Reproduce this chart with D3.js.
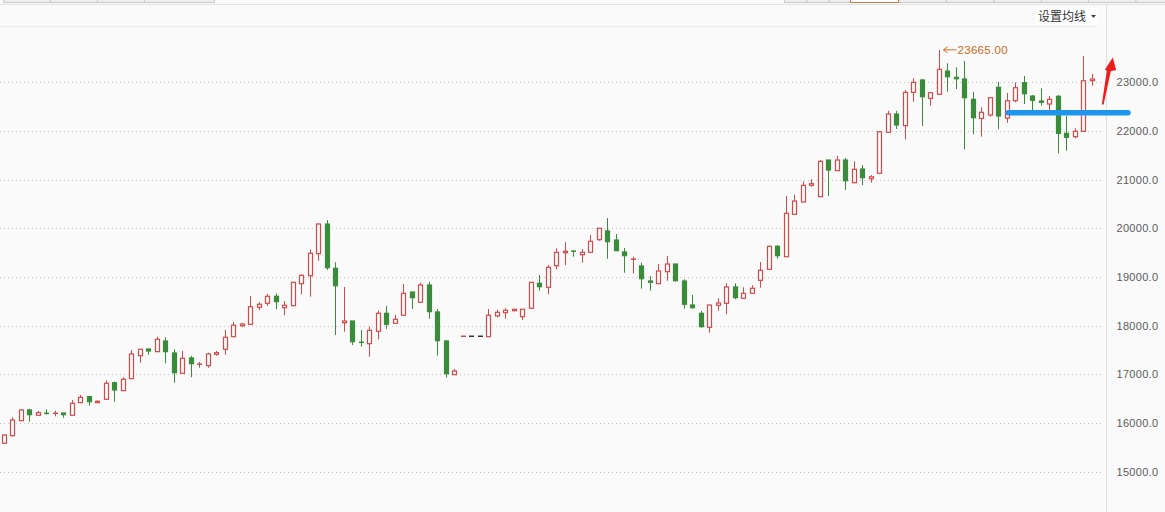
<!DOCTYPE html>
<html><head><meta charset="utf-8">
<script src="https://cdn.jsdelivr.net/npm/d3@7"></script>
<style>
html,body{margin:0;padding:0;background:#fafafa;}
svg{display:block;}
</style></head>
<body>
<svg id="chart" width="1165" height="512"></svg>
<script>
// ---------- data ----------
const open = [15586,15742,16050,16270,16161,16208,16194,16208,16161,16420,16543,16420,16489,16830,16666,16912,17384,17522,17467,17686,
17440,17023,17337,17200,17179,17413,17516,17775,18000,18029,18378,18460,18604,18370,18411,18863,19027,19479,20088,19179,
18062,18097,17666,17631,17885,18255,18050,18214,18692,18481,18836,18282,17686,16994,17783,17783,17783,17775,18200,18267,
18308,18185,18358,18871,18789,19232,19499,19540,19458,19507,19766,19945,19760,19513,19355,19226,18918,18863,19109,19267,
18918,18425,18255,17967,18419,18460,18795,18563,18665,18932,19158,19630,19417,20287,20540,20883,20649,21402,21183,21402,
20936,21217,21018,21129,21971,22347,22107,22792,23045,22669,22751,23229,23100,23065,22648,22258,22326,22895,22264,22620,
22989,22716,22613,22552,22710,21950,21881,21991,23030];
const high = [15770,16120,16290,16290,16249,16284,16255,16208,16475,16578,16557,16469,16879,16851,16941,17501,17516,17522,17775,17762,
17516,17481,17378,17255,17446,17481,17912,18076,18056,18610,18481,18651,18665,18507,18891,19056,19569,20103,20170,19302,
18795,18097,17912,17980,18308,18405,18226,18856,18692,18883,18897,18343,17706,17111,17783,17783,17783,18343,18323,18358,
18337,18337,18891,19041,19247,19589,19713,19555,19575,19862,20000,20211,19883,19596,19417,19294,19021,19267,19431,19267,
18953,18631,18302,18425,18563,18871,18871,18789,18830,19308,19643,19657,20663,20684,20965,21006,21402,21402,21490,21443,
21376,21300,21094,21983,22414,22414,22839,23080,23065,22784,23665,23387,23305,23435,22798,22484,22681,23004,22778,22997,
23127,22737,22874,22716,22737,22306,22053,23537,23168];
const low = [15586,15722,16050,16030,16161,16173,16140,16112,16161,16420,16358,16420,16489,16440,16666,16912,17241,17405,17467,17228,
16830,17023,16941,17138,17138,17384,17405,17775,17967,18029,18317,18405,18337,18214,18411,18645,18596,19335,19144,17809,
17877,17604,17569,17364,17721,17933,18050,18214,18343,18481,18144,17384,16933,16994,17783,17783,17783,17775,18173,18144,
18296,18117,18358,18719,18645,19158,19247,19417,19294,19507,19745,19376,19540,19088,19076,18760,18719,18863,18924,18904,
18349,18349,17960,17857,18308,18234,18542,18563,18665,18781,19158,19376,19417,20287,20540,20854,20649,20663,21183,20786,
20936,20889,20936,21129,21971,22039,21827,22599,22100,22517,22751,22804,22860,21622,21930,21881,22291,22039,22168,22587,
22552,22408,22517,22429,21540,21593,21848,21991,22928];
const close = [15756,16064,16270,16173,16214,16194,16208,16173,16407,16530,16440,16448,16818,16680,16900,17419,17516,17481,17721,17467,
17035,17331,17220,17220,17419,17446,17762,18009,18035,18390,18440,18604,18493,18419,18891,19035,19487,20088,19191,18822,
18097,17672,17652,17906,18255,18029,18132,18665,18575,18836,18288,17693,17015,17070,17783,17783,17783,18214,18275,18317,
18337,18337,18891,18801,19199,19507,19528,19520,19507,19733,20000,19725,19540,19438,19376,18965,18891,19123,19267,18924,
18440,18370,17980,18425,18466,18795,18575,18665,18768,19138,19630,19438,20308,20560,20883,20916,21376,21197,21402,20977,
21211,21039,21059,21983,22347,22121,22792,22997,22702,22784,23264,23112,23071,22681,22271,22381,22681,22306,22620,22887,
22763,22628,22587,22648,21950,21868,21991,23030,23065];
const categories = d3.range(open.length);           // one category per trading day
const yTicks = [15000,16000,17000,18000,19000,20000,21000,22000,23000];
const menuLabel = "设置均线";

// ---------- colours ----------
const RED = "#d04a4a", GREEN = "#3a8c3a", FLAT = "#333333";

const svg = d3.select("#chart");
const W = 1165, H = 512, axisX = 1106.5;

// ---------- top chrome ----------
const chrome = svg.append("g");
const leftTabs = [3, 50, 97, 144, 214];
const rightTabs = [784, 806.5, 828.5, 850, 898.5, 946, 993.5, 1041, 1088, 1135.5, 1170];
function tabs(edges, selIdx) {
  for (let k = 0; k < edges.length - 1; k++) {
    chrome.append("rect").attr("x", edges[k] + 0.5).attr("y", -4).attr("width", edges[k+1]-edges[k]).attr("height", 6.5)
      .attr("fill", k === selIdx ? "#fdfdfd" : "#eeeeee").attr("stroke", "#c9c9c9").attr("stroke-width", 1);
  }
}
tabs(leftTabs, -1);
tabs(rightTabs, 3);
chrome.append("rect").attr("x", 850.5).attr("y", -4).attr("width", 48).attr("height", 6.5)
  .attr("fill", "none").attr("stroke", "#c8784a").attr("stroke-width", 1);
chrome.append("line").attr("x1", 0).attr("x2", W).attr("y1", 4.5).attr("y2", 4.5).attr("stroke", "#e2e2e2");
chrome.append("line").attr("x1", 0).attr("x2", 1097).attr("y1", 26.5).attr("y2", 26.5).attr("stroke", "#ececec").attr("stroke-width", 1);
chrome.append("rect").attr("x", 1036).attr("y", 8).attr("width", 62).attr("height", 16).attr("fill", "#ffffff");
chrome.append("text").attr("x", 1038).attr("y", 21).text(menuLabel)
  .attr("font-family", "Noto Sans CJK SC").attr("font-size", 12).attr("fill", "#333");
chrome.append("path").attr("d", "M1091,15 L1096,15 L1093.5,18 Z").attr("fill", "#444");
chrome.append("line").attr("x1", axisX).attr("x2", axisX).attr("y1", 5).attr("y2", H).attr("stroke", "#e0e0e0");

// ---------- scales ----------
const x = d3.scaleBand().domain(categories).range([0, 1096.5]).padding(0);
const y = d3.scaleLinear().domain([15000, 23000]).range([471.8, 82.2]);

// gridlines
svg.append("g").selectAll("line").data(yTicks).join("line")
  .attr("x1", 0).attr("x2", 1101)
  .attr("y1", d => Math.round(y(d)) + 0.5).attr("y2", d => Math.round(y(d)) + 0.5)
  .attr("stroke", "#c4c4c4").attr("stroke-dasharray", "1,3");

// axis
const axis = svg.append("g").attr("transform", `translate(${axisX},0)`)
  .call(d3.axisRight(y).tickValues(yTicks).tickFormat(d3.format(".1f")).tickSize(0).tickPadding(10));
axis.select(".domain").remove();
axis.selectAll("text").attr("font-family", "Liberation Sans").attr("font-size", 11).attr("fill", "#5a5a5a")
  .attr("letter-spacing", 0.3);

// ---------- candles ----------
const data = categories.map(i => ({i, o: open[i], h: high[i], l: low[i], c: close[i]}));
function colorOf(d) {
  if (d.c > d.o) return RED;
  if (d.c < d.o) return GREEN;
  const prev = d.i > 0 ? close[d.i - 1] : d.c;
  return d.c > prev ? RED : (d.c < prev ? GREEN : FLAT);
}
const cx = d => Math.round(x(d.i) + x.bandwidth() / 2 - 0.5) + 0.5;
const g = svg.append("g");
const cs = g.selectAll("g").data(data).join("g");
cs.append("line")
  .attr("x1", cx).attr("x2", cx)
  .attr("y1", d => y(d.h)).attr("y2", d => y(d.l))
  .attr("stroke", colorOf).attr("stroke-width", 1);
cs.each(function(d) {
  const sel = d3.select(this);
  const col = colorOf(d);
  const yt = y(Math.max(d.o, d.c)), yb = y(Math.min(d.o, d.c));
  const c = cx(d);
  if (yb - yt < 1.2) {
    sel.append("line").attr("x1", c - 2.5).attr("x2", c + 2.5)
      .attr("y1", (yt + yb) / 2).attr("y2", (yt + yb) / 2)
      .attr("stroke", col).attr("stroke-width", 1.5);
  } else {
    sel.append("rect").attr("x", c - 2).attr("width", 4)
      .attr("y", yt).attr("height", yb - yt)
      .attr("fill", d.c > d.o ? "#fcfcfc" : col)
      .attr("stroke", col).attr("stroke-width", 1.2);
  }
});

// ---------- max label ----------
const maxIdx = d3.maxIndex(high);
const mx = cx(data[maxIdx]) + 3, my = y(high[maxIdx]);
const ORANGE = "#cc6a20";
svg.append("path").attr("d", `M${mx+14},${my} H${mx+1} M${mx+5},${my-3} L${mx+1},${my} L${mx+5},${my+3}`)
  .attr("stroke", ORANGE).attr("fill", "none").attr("stroke-width", 1);
svg.append("text").attr("x", mx + 15).attr("y", my + 4).text(d3.format(".2f")(high[maxIdx]))
  .attr("font-family", "Liberation Sans").attr("font-size", 11.5).attr("fill", ORANGE).attr("letter-spacing", 0.3);

// ---------- hand-drawn annotations ----------
svg.append("line").attr("x1", 1008).attr("x2", 1128).attr("y1", 112.7).attr("y2", 112.7)
  .attr("stroke", "#1e96f0").attr("stroke-width", 5.5).attr("stroke-linecap", "round");
svg.append("path")
  .attr("d", "M1101.8,104.5 L1106.8,71 L1105,69.5 L1112.8,57.5 L1116.2,70 L1110.8,71.3 L1103.6,104.5 Z")
  .attr("fill", "#ee1c1c");
</script>
</body></html>
